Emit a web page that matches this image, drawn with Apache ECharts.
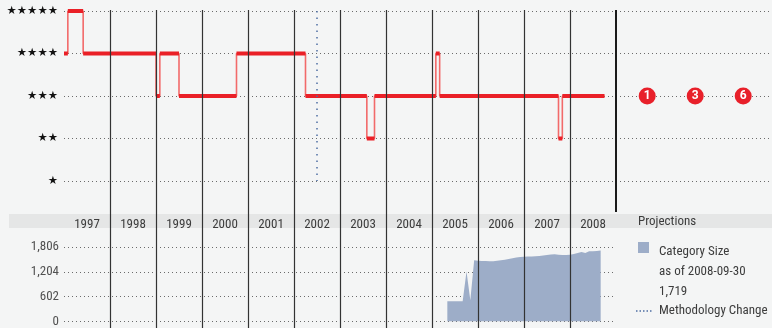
<!DOCTYPE html>
<html><head><meta charset="utf-8">
<script src="https://cdn.jsdelivr.net/npm/echarts@6/dist/echarts.min.js"></script>
<style>html,body{margin:0;padding:0;background:#f4f5f5}#c{width:772px;height:328px}</style>
</head><body><div id="c"></div>
<script>
// ---- data ----
const years = ['1997','1998','1999','2000','2001','2002','2003','2004','2005','2006','2007','2008'];
const starLabels = ['★','★★','★★★','★★★★','★★★★★'];
// monthly star rating, Jan 1997 .. Sep 2008
const ratings = [
  4,5,5,5,5,4,4,4,4,4,4,4,   // 1997
  4,4,4,4,4,4,4,4,4,4,4,4,   // 1998
  3,4,4,4,4,4,3,3,3,3,3,3,   // 1999
  3,3,3,3,3,3,3,3,3,4,4,4,   // 2000
  4,4,4,4,4,4,4,4,4,4,4,4,   // 2001
  4,4,4,3,3,3,3,3,3,3,3,3,   // 2002
  3,3,3,3,3,3,3,2,2,3,3,3,   // 2003
  3,3,3,3,3,3,3,3,3,3,3,3,   // 2004
  3,4,3,3,3,3,3,3,3,3,3,3,   // 2005
  3,3,3,3,3,3,3,3,3,3,3,3,   // 2006
  3,3,3,3,3,3,3,3,3,2,3,3,   // 2007
  3,3,3,3,3,3,3,3,3          // 2008
];
const sizeStartMonth = 100; // May 2005
const categorySize = [
  489,489,489,489,489,1211,513,1485,1475,1468,1465,1462,1461,1470,1482,1498,
  1515,1532,1550,1565,1570,1575,1578,1582,1590,1600,1612,1625,1630,1620,1615,
  1613,1620,1637,1660,1686,1662,1702,1705,1712,1719
];
const sizeTickInterval = 602;
const sizeMax = 1806;
const projLabels = ['1','3','6'];
const projRatings = [3,3,3];
const methodologyMonth = 66;
const asOfDate = '2008-09-30';
const latestSize = 1719;

// ---- derived series data ----
const totalMonths = years.length * 12;
const stepData = ratings.map((v,i)=>[i,v]);
stepData.push([ratings.length, ratings[ratings.length-1]]);
const thickData = [];
let s = 0;
for (let i = 1; i <= ratings.length; i++) {
  if (i === ratings.length || ratings[i] !== ratings[s]) {
    thickData.push([s, ratings[s]], [i, ratings[s]], [i, '-']);
    s = i;
  }
}
const sizeData = categorySize.map((v,i)=>[sizeStartMonth+i, v]);
const projData = projRatings.map((v,i)=>[i+1, v]);

const FAM = 'Roboto';
const GFONT = 'condensed 13px Roboto';
const TXT = '#3c3c3c';
const cond = {fontStyle:'normal', fontWeight:'condensed', fontFamily:FAM};
const dotted = {color:'#6b6b6b', width:1, type:[1,3]};

const chart = echarts.init(document.getElementById('c'), null, {renderer:'canvas'});
chart.setOption({
  animation:false,
  backgroundColor:'#f4f5f5',
  grid:[
    {left:64, width:552, top:10, height:318},
    {left:64, width:552, top:11, height:170},
    {left:616, width:156, top:11, height:170},
    {left:64, width:552, top:247, height:75}
  ],
  xAxis:[
    {gridIndex:0, type:'value', min:0, max:totalMonths, show:false},
    {gridIndex:1, type:'value', min:0, max:totalMonths, show:false},
    {gridIndex:2, type:'value', min:0.35, max:3.6, show:false},
    {gridIndex:3, type:'value', min:0, max:totalMonths, show:false},
    {gridIndex:3, type:'category', data:years, position:'top', boundaryGap:true,
     axisLine:{show:false}, axisTick:{show:false}, splitLine:{show:false},
     axisLabel:Object.assign({margin:16, fontSize:13, color:TXT}, cond)}
  ],
  yAxis:[
    {gridIndex:0, type:'value', min:0, max:1, show:false},
    {gridIndex:1, type:'value', min:1, max:5, interval:1,
     axisLine:{show:false}, axisTick:{show:false},
     axisLabel:{margin:6, fontSize:11.5, color:'#111', fontFamily:'"DejaVu Sans"',
       formatter:v=>starLabels[v-1]},
     splitLine:{lineStyle:dotted}},
    {gridIndex:2, type:'value', min:1, max:5, interval:1,
     axisLine:{show:false}, axisTick:{show:false}, axisLabel:{show:false},
     splitLine:{lineStyle:dotted}},
    {gridIndex:3, type:'value', min:0, max:sizeMax, interval:sizeTickInterval,
     axisLine:{show:false}, axisTick:{show:false},
     axisLabel:Object.assign({margin:5, fontSize:13, color:'#505050',
       formatter:v=>v.toLocaleString('en-US')}, cond),
     splitLine:{lineStyle:dotted}}
  ],
  graphic:[
    {type:'rect', silent:true, z:-10, shape:{x:9, y:214, width:763, height:14}, style:{fill:'#e5e6e6'}},
    {type:'text', silent:true, x:638, y:222, style:{text:'Projections', fill:TXT, font:GFONT, verticalAlign:'middle'}},
    {type:'rect', silent:true, shape:{x:638, y:242, width:11, height:11}, style:{fill:'#9dadc8'}},
    {type:'text', silent:true, x:659, y:252, style:{text:'Category Size', fill:TXT, font:GFONT, verticalAlign:'middle'}},
    {type:'text', silent:true, x:659, y:272, style:{text:'as of '+asOfDate, fill:TXT, font:GFONT, verticalAlign:'middle'}},
    {type:'text', silent:true, x:659, y:292, style:{text:latestSize.toLocaleString('en-US'), fill:TXT, font:GFONT, verticalAlign:'middle'}},
    {type:'line', silent:true, shape:{x1:636, y1:311, x2:653, y2:311}, style:{stroke:'#4d6ea3', lineWidth:1.5, lineDash:[1.5,2]}},
    {type:'text', silent:true, x:659, y:311, style:{text:'Methodology Change', fill:TXT, font:GFONT, verticalAlign:'middle'}}
  ],
  series:[
    {type:'line', xAxisIndex:0, yAxisIndex:0, data:[[0,0]], symbol:'none', lineStyle:{opacity:0}, silent:true,
     markLine:{silent:true, symbol:['none','none'], label:{show:false},
       lineStyle:{color:'#333', width:1.2, type:'solid'},
       data: years.slice(1).map((y,i)=>({xAxis:(i+1)*12})).concat([
         [{coord:[totalMonths,1], lineStyle:{color:'#1a1a1a', width:2, type:'solid'}},
          {coord:[totalMonths,(328-212)/318]}]
       ])}},
    {type:'line', xAxisIndex:1, yAxisIndex:1, data:stepData, step:'end', symbol:'none', z:3,
     lineStyle:{color:'#f26a6a', width:1.6},
     markLine:{silent:true, symbol:['none','none'], label:{show:false},
       lineStyle:{color:'#4d6ea3', width:1.5, type:[1.5,5]},
       data:[[{coord:[methodologyMonth,5]},{coord:[methodologyMonth,1]}]]}},
    {type:'line', xAxisIndex:1, yAxisIndex:1, data:thickData, symbol:'none', z:4, connectNulls:false,
     lineStyle:{color:'#ea2027', width:4}},
    {type:'scatter', xAxisIndex:2, yAxisIndex:2, data:projData, symbol:'circle', symbolSize:17,
     itemStyle:{color:'#e8202a', opacity:1},
     label:{show:true, position:'inside', color:'#fff', fontWeight:'bold', fontSize:12, fontFamily:FAM,
       formatter:p=>projLabels[p.dataIndex]}},
    {type:'line', xAxisIndex:3, yAxisIndex:3, data:sizeData, symbol:'none', z:1,
     lineStyle:{width:0}, areaStyle:{color:'#9dadc8', opacity:1}}
  ]
});
</script></body></html>
